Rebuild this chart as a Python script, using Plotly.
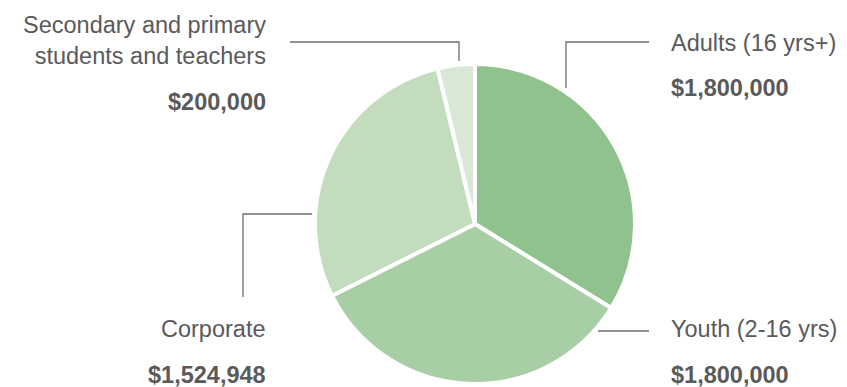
import plotly.graph_objects as go

categories = ["Adults (16 yrs+)", "Youth (2-16 yrs)", "Corporate", "Secondary and primary<br>students and teachers"]
values = [1800000, 1800000, 1524948, 200000]
colors = ["#90c28e", "#a8cea5", "#c2dcbd", "#d9e8d6"]

W, H = 847, 387
cx, cy, r = 475, 224, 160  # pie centre/radius in pixels

def px(x):
    return x / W

def py(y):
    return 1 - y / H

fig = go.Figure(go.Pie(
    labels=categories, values=values, sort=False, direction="clockwise", rotation=0,
    marker=dict(colors=colors, line=dict(color="white", width=4)),
    textinfo="none", hoverinfo="label+value", showlegend=False,
    domain=dict(x=[px(cx - r), px(cx + r)], y=[py(cy + r), py(cy - r)]),
))

FONT = dict(family="Liberation Sans, Arial", size=23.5, color="#5a5a5a")

# label layout: (text lines, value, anchor x, xanchor, label y, value y)
label_layout = [
    (categories[0], values[0], 669, "left", 43, 88),
    (categories[1], values[1], 669, "left", 329, 375),
    (categories[2], values[2], 268, "right", 329, 375),
    (categories[3], values[3], 268, "right", 40, 102),
]
annotations = []
for text, val, x, xa, ly, vy in label_layout:
    annotations.append(dict(x=px(x), y=py(ly), xref="paper", yref="paper", text=text,
                            xanchor=xa, yanchor="middle", align=xa, showarrow=False,
                            font=FONT))
    annotations.append(dict(x=px(x), y=py(vy), xref="paper", yref="paper",
                            text="<b>$" + f"{val:,}" + "</b>",
                            xanchor=xa, yanchor="middle", showarrow=False,
                            font=FONT))

# leader lines (pixel polylines)
leaders = [
    [(566, 88), (566, 42), (649, 42)],
    [(598, 331), (649, 331)],
    [(312, 214), (243, 214), (243, 297)],
    [(290, 42), (459, 42), (459, 61)],
]
shapes = []
for pts in leaders:
    path = "M " + " L ".join(f"{px(x)},{py(y)}" for x, y in pts)
    shapes.append(dict(type="path", path=path, xref="paper", yref="paper",
                       line=dict(color="#6e6e6e", width=1.3)))

fig.update_layout(width=W, height=H, margin=dict(l=0, r=0, t=0, b=0),
                  paper_bgcolor="white", plot_bgcolor="white",
                  annotations=annotations, shapes=shapes)
fig.write_html("out.html")
